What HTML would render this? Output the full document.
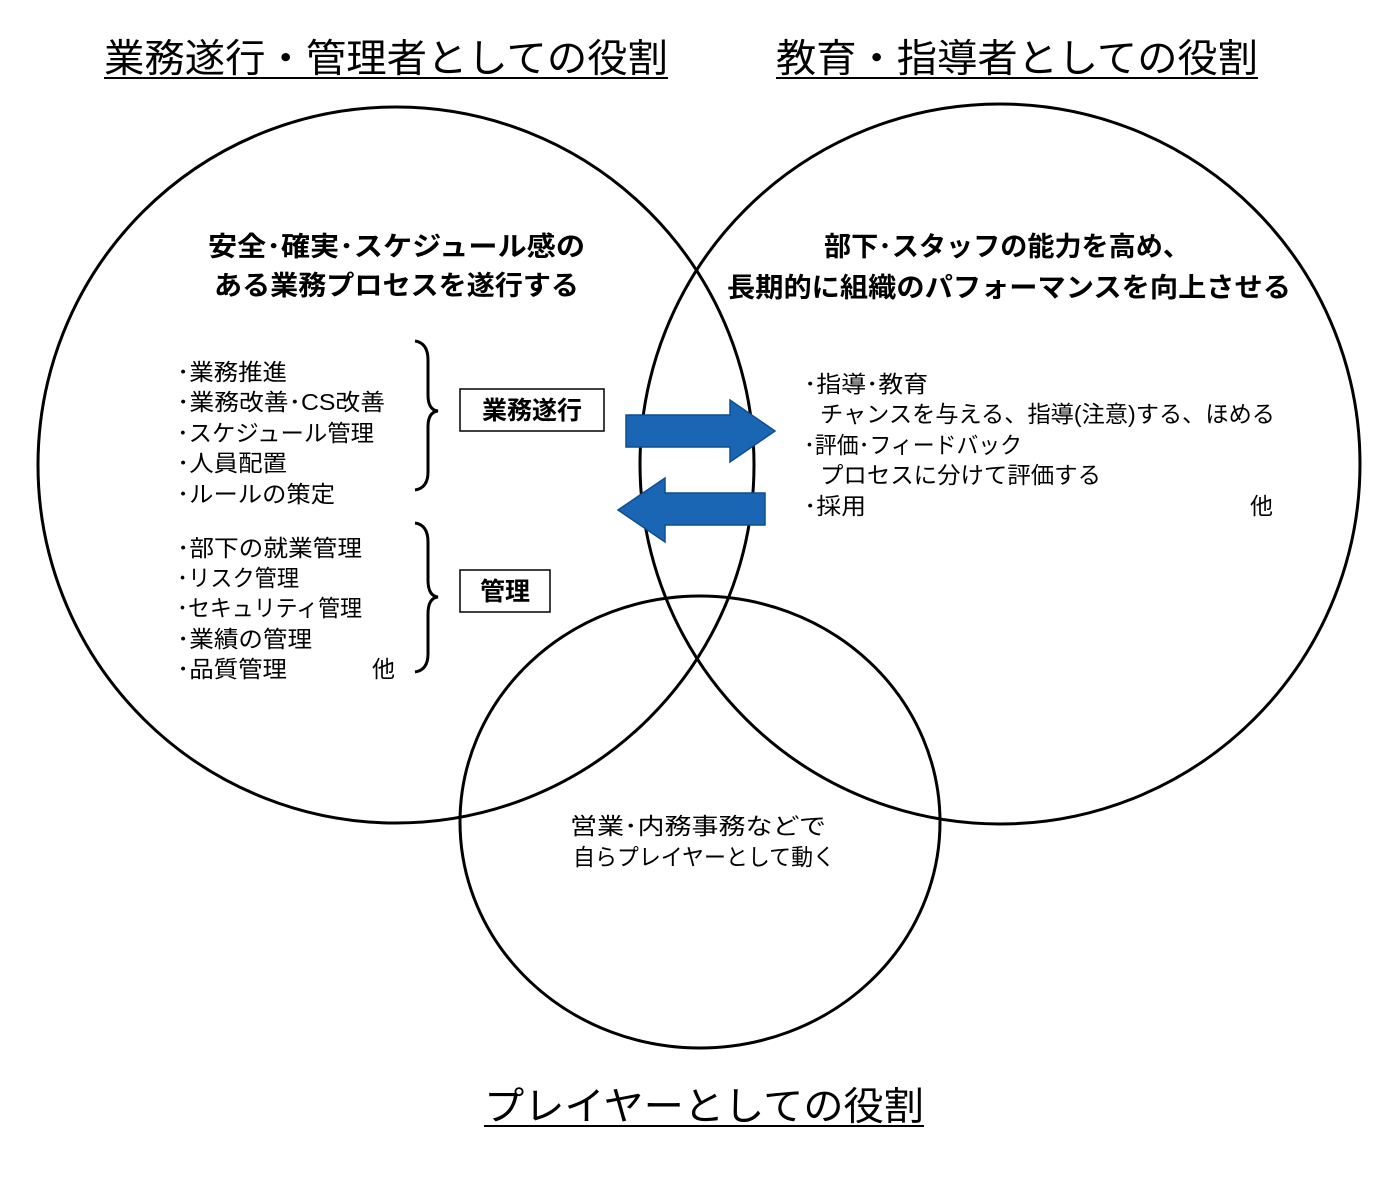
<!DOCTYPE html>
<html><head><meta charset="utf-8"><style>
html,body{margin:0;padding:0;background:#fff;}
svg text{font-family:"Liberation Sans","Noto Sans CJK JP",sans-serif;fill:#000;}
</style></head><body>
<svg width="1380" height="1187" viewBox="0 0 1380 1187" xmlns="http://www.w3.org/2000/svg">
<g fill="none" stroke="#000" stroke-width="3">
<circle cx="396" cy="465" r="358"/>
<circle cx="1000" cy="464" r="360"/>
<ellipse cx="700" cy="822" rx="240" ry="226"/>
</g>
<text x="104" y="72" font-size="39" textLength="564" lengthAdjust="spacingAndGlyphs">業務遂行・管理者としての役割</text>
<line x1="104" y1="78" x2="668" y2="78" stroke="#000" stroke-width="2"/>
<text x="776" y="72" font-size="39" textLength="482" lengthAdjust="spacingAndGlyphs">教育・指導者としての役割</text>
<line x1="776" y1="78" x2="1258" y2="78" stroke="#000" stroke-width="2"/>
<text x="484" y="1120" font-size="39" textLength="440" lengthAdjust="spacingAndGlyphs">プレイヤーとしての役割</text>
<line x1="484" y1="1126" x2="924" y2="1126" stroke="#000" stroke-width="2"/>
<g font-size="27" font-weight="bold">
<text x="208" y="256" textLength="377" lengthAdjust="spacingAndGlyphs">安全･確実･スケジュール感の</text>
<text x="214" y="295" textLength="365" lengthAdjust="spacingAndGlyphs">ある業務プロセスを遂行する</text>
<text x="824" y="256" textLength="366" lengthAdjust="spacingAndGlyphs">部下･スタッフの能力を高め、</text>
<text x="727" y="297" textLength="564" lengthAdjust="spacingAndGlyphs">長期的に組織のパフォーマンスを向上させる</text>
</g>
<g font-size="23">
<text x="177" y="380" textLength="110" lengthAdjust="spacingAndGlyphs">･業務推進</text>
<text x="177" y="410" textLength="208" lengthAdjust="spacingAndGlyphs">･業務改善･CS改善</text>
<text x="177" y="441" textLength="197" lengthAdjust="spacingAndGlyphs">･スケジュール管理</text>
<text x="177" y="471" textLength="110" lengthAdjust="spacingAndGlyphs">･人員配置</text>
<text x="177" y="502" textLength="158" lengthAdjust="spacingAndGlyphs">･ルールの策定</text>
<text x="177" y="556" textLength="185" lengthAdjust="spacingAndGlyphs">･部下の就業管理</text>
<text x="177" y="586" textLength="122" lengthAdjust="spacingAndGlyphs">･リスク管理</text>
<text x="177" y="616" textLength="185" lengthAdjust="spacingAndGlyphs">･セキュリティ管理</text>
<text x="177" y="647" textLength="135" lengthAdjust="spacingAndGlyphs">･業績の管理</text>
<text x="177" y="677" textLength="110" lengthAdjust="spacingAndGlyphs">･品質管理</text>
<text x="372" y="677">他</text>
<text x="804" y="392" textLength="124" lengthAdjust="spacingAndGlyphs">･指導･教育</text>
<text x="820" y="422" textLength="455" lengthAdjust="spacingAndGlyphs">チャンスを与える、指導(注意)する、ほめる</text>
<text x="804" y="453" textLength="218" lengthAdjust="spacingAndGlyphs">･評価･フィードバック</text>
<text x="820" y="483" textLength="281" lengthAdjust="spacingAndGlyphs">プロセスに分けて評価する</text>
<text x="804" y="514" textLength="62" lengthAdjust="spacingAndGlyphs">･採用</text>
<text x="1250" y="514">他</text>
<text x="570" y="834" textLength="256" lengthAdjust="spacingAndGlyphs">営業･内務事務などで</text>
<text x="573" y="865" textLength="262" lengthAdjust="spacingAndGlyphs">自らプレイヤーとして動く</text>
</g>
<g fill="none" stroke="#000" stroke-width="3">
<path d="M415,341 Q428,343 428,360 L428,395 Q428,410 438,411 Q428,412 428,427 L428,472 Q428,488 415,490"/>
<path d="M415,523 Q428,525 428,542 L428,580 Q428,596 438,597 Q428,598 428,614 L428,654 Q428,670 415,672"/>
</g>
<g fill="#fff" stroke="#000" stroke-width="1.5">
<rect x="460" y="389" width="144" height="42"/>
<rect x="460" y="570" width="90" height="42"/>
</g>
<g font-size="25" font-weight="bold" text-anchor="middle">
<text x="532" y="419">業務遂行</text>
<text x="505" y="600">管理</text>
</g>
<g fill="#1a66b4" stroke="#0d4f8f" stroke-width="1.5">
<polygon points="626,415 730,415 730,400 775,431 730,462 730,447 626,447"/>
<polygon points="765,493 665,493 665,478 618,510 665,542 665,525 765,525"/>
</g>
</svg>
</body></html>
